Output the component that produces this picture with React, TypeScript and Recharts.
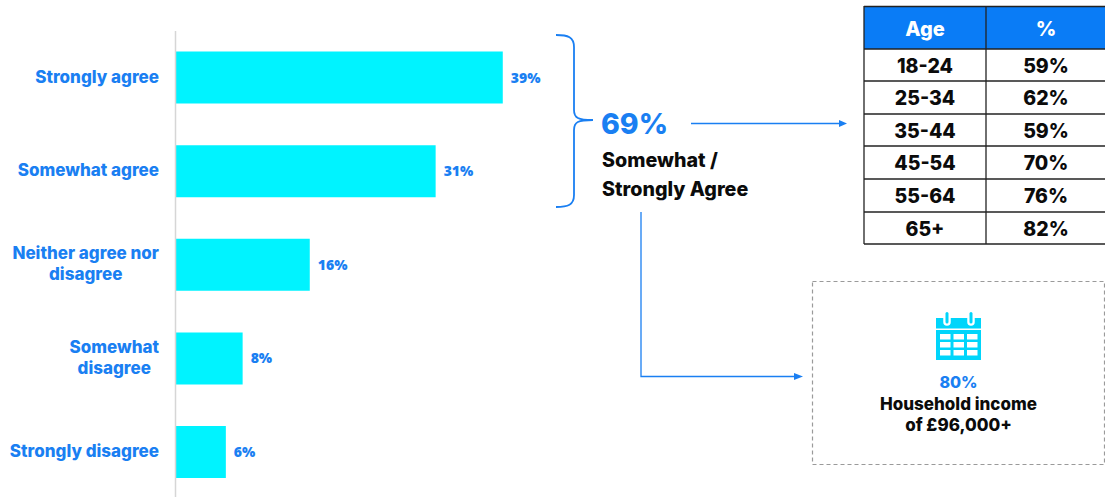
import React from "react";
import { BarChart, Bar, XAxis, YAxis, LabelList } from "recharts";

const categories = [
  "Strongly agree",
  "Somewhat agree",
  "Neither agree nor disagree",
  "Somewhat disagree",
  "Strongly disagree",
];
const shares = [39, 31, 16, 8, 6];
const categoryLines: Record<string, string[]> = {
  "Neither agree nor disagree": ["Neither agree nor", "disagree"],
  "Somewhat disagree": ["Somewhat", "disagree"],
};
const ageBands = ["18-24", "25-34", "35-44", "45-54", "55-64", "65+"];
const agePercents = ["59%", "62%", "59%", "70%", "76%", "82%"];
const rowEdges = [49, 81, 114, 146, 179, 212, 244];

const rows = categories.map((name, i) => ({ name, share: shares[i] }));

const BLUE = "#1a7ff2";
const HEADER_BLUE = "#0a7cf6";
const CYAN = "#00f3ff";
const ICON_CYAN = "#00d5fb";
const FONT = "Inter, sans-serif";

function textWidth(text: string, font: string) {
  const ctx = document.createElement("canvas").getContext("2d");
  if (!ctx) return 0;
  ctx.font = font;
  return ctx.measureText(text).width;
}

// Right-aligned category label; wrapped labels centre their second line under the first.
function CategoryTick({ x, y, payload }: any) {
  const lines = categoryLines[payload.value] ?? [payload.value];
  const labelStyle = { fontFamily: FONT, fontWeight: 800, fontSize: 17, fill: BLUE };
  if (lines.length === 1) {
    return (
      <text x={x} y={y + 5} textAnchor="end" {...labelStyle}>
        {lines[0]}
      </text>
    );
  }
  const first = textWidth(lines[0], `800 17px ${FONT}`);
  return (
    <g>
      <text x={x} y={y - 6} textAnchor="end" {...labelStyle}>
        {lines[0]}
      </text>
      <text x={x - first / 2} y={y + 15} textAnchor="middle" {...labelStyle}>
        {lines[1]}
      </text>
    </g>
  );
}

function CalendarIcon() {
  const columns = [940, 953.5, 967];
  const cellRows = [334, 342, 350];
  return (
    <g>
      <rect x={936} y={318} width={45} height={10.5} fill={ICON_CYAN} />
      <rect x={936} y={330} width={45} height={30} fill={ICON_CYAN} />
      {columns.map((x) =>
        cellRows.map((y) => (
          <rect key={`${x}-${y}`} x={x} y={y} width={10.5} height={5.5} fill="#fff" />
        )),
      )}
      {[947, 971].map((x) => (
        <g key={x}>
          <line x1={x} x2={x} y1={314} y2={322} stroke="#fff" strokeWidth={7.5} strokeLinecap="round" />
          <line x1={x} x2={x} y1={313.5} y2={322} stroke={ICON_CYAN} strokeWidth={3} strokeLinecap="round" />
        </g>
      ))}
    </g>
  );
}

function Annotations() {
  return (
    <svg
      width={1105}
      height={497}
      style={{ position: "absolute", left: 0, top: 0, pointerEvents: "none" }}
    >
      <path
        d="M556 35 C568 35 574 37 574 47 L574 110 C574 118 578 120 593 120 C578 120 574 122 574 130 L574 195 C574 205 568 207 556 207"
        fill="none"
        stroke={BLUE}
        strokeWidth={1.8}
      />
      <line x1={691} y1={123.5} x2={840} y2={123.5} stroke={BLUE} strokeWidth={1.3} />
      <polygon points="847,123.5 839,120 839,127" fill={BLUE} />
      <polyline points="641,212 641,376.5 796,376.5" fill="none" stroke={BLUE} strokeWidth={1.3} />
      <polygon points="803,376.5 794,373 794,380" fill={BLUE} />
      <text x={601} y={134} fontFamily={FONT} fontWeight={800} fontSize={28.5} fill={BLUE}>
        69%
      </text>
      <text x={602} y={167} fontFamily={FONT} fontWeight={800} fontSize={19.7} fill="#0b0b0b">
        Somewhat /
      </text>
      <text x={602} y={196} fontFamily={FONT} fontWeight={800} fontSize={19.7} fill="#0b0b0b">
        Strongly Agree
      </text>

      <rect x={864} y={6} width={241} height={43} fill={HEADER_BLUE} />
      {rowEdges.map((y) => (
        <line key={y} x1={864} x2={1105} y1={y} y2={y} stroke="#222" strokeWidth={1.3} />
      ))}
      <line x1={864} x2={1105} y1={6.5} y2={6.5} stroke="#222" strokeWidth={1.3} />
      {[864, 986].map((x) => (
        <line key={x} x1={x} x2={x} y1={6} y2={244} stroke="#222" strokeWidth={1.3} />
      ))}
      <text x={925} y={36} textAnchor="middle" fontFamily={FONT} fontWeight={800} fontSize={20} fill="#fff">
        Age
      </text>
      <text x={1046} y={36} textAnchor="middle" fontFamily={FONT} fontWeight={800} fontSize={20} fill="#fff">
        %
      </text>
      {ageBands.map((band, i) => {
        const mid = (rowEdges[i] + rowEdges[i + 1]) / 2 + 7.5;
        return (
          <g key={band} fontFamily={FONT} fontWeight={800} fontSize={19.5} fill="#0b0b0b" textAnchor="middle">
            <text x={925} y={mid}>{band}</text>
            <text x={1046} y={mid}>{agePercents[i]}</text>
          </g>
        );
      })}

      <rect x={812.5} y={281.5} width={292} height={183} fill="none" stroke="#9a9a9a" strokeWidth={1.2} strokeDasharray="4 3" />
      <CalendarIcon />
      <text x={958.5} y={388} textAnchor="middle" fontFamily={FONT} fontWeight={800} fontSize={16} fill={BLUE}>
        80%
      </text>
      <text x={958.5} y={410} textAnchor="middle" fontFamily={FONT} fontWeight={800} fontSize={17} fill="#0b0b0b">
        Household income
      </text>
      <text x={958.5} y={431} textAnchor="middle" fontFamily={FONT} fontWeight={800} fontSize={17} fill="#0b0b0b">
        of £96,000+
      </text>
    </svg>
  );
}

export default function App() {
  return (
    <div
      style={{
        position: "absolute",
        left: 0,
        top: 0,
        width: 1105,
        height: 497,
        overflow: "hidden",
        background: "#fff",
      }}
    >
      <BarChart
        width={1105}
        height={500}
        data={rows}
        layout="vertical"
        barCategoryGap="22%"
        margin={{ top: 31, right: 426, bottom: 1, left: 0 }}
      >
        <XAxis type="number" hide domain={[0, 60]} />
        <YAxis
          type="category"
          dataKey="name"
          width={175.5}
          axisLine={{ stroke: "#d6d6d6", strokeWidth: 1.5 }}
          tickLine={false}
          tickMargin={0}
          tickSize={16.5}
          interval={0}
          tick={<CategoryTick />}
        />
        <Bar dataKey="share" fill={CYAN} isAnimationActive={false}>
          <LabelList
            dataKey="share"
            position="right"
            offset={8}
            formatter={(v: number) => `${v}%`}
            style={{ fontFamily: "'Open Sans', sans-serif", fontWeight: 800, fontSize: 14, fill: BLUE }}
          />
        </Bar>
      </BarChart>
      <Annotations />
    </div>
  );
}
